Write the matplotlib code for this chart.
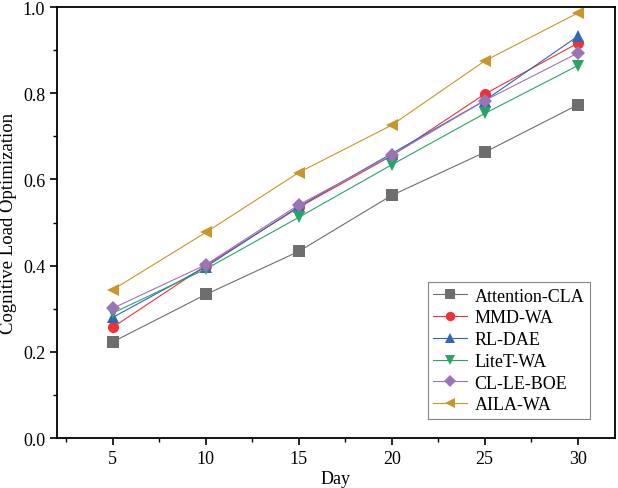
import matplotlib
matplotlib.use("Agg")
import matplotlib.pyplot as plt
from matplotlib.ticker import MultipleLocator

days = [5, 10, 15, 20, 25, 30]
attention_cla = [0.223, 0.333, 0.433, 0.563, 0.663, 0.773]
mmd_wa = [0.257, 0.400, 0.535, 0.655, 0.798, 0.916]
rl_dae = [0.280, 0.397, 0.537, 0.660, 0.783, 0.932]
litet_wa = [0.290, 0.392, 0.512, 0.634, 0.753, 0.864]
cl_le_boe = [0.301, 0.402, 0.541, 0.656, 0.783, 0.893]
aila_wa = [0.344, 0.477, 0.616, 0.726, 0.875, 0.986]

series = [
    ("Attention-CLA", attention_cla, "#6e6e6e", "s"),
    ("MMD-WA", mmd_wa, "#f03238", "o"),
    ("RL-DAE", rl_dae, "#2f67b4", "^"),
    ("LiteT-WA", litet_wa, "#2aa466", "v"),
    ("CL-LE-BOE", cl_le_boe, "#9b74b8", "D"),
    ("AILA-WA", aila_wa, "#c8962a", "<"),
]

plt.rcParams['font.family'] = ['Liberation Serif', 'DejaVu Serif']
fig = plt.figure(figsize=(6.18, 4.89), dpi=100)
ax = fig.add_axes([0.0922, 0.1022, 0.9028, 0.8814])

for name, vals, col, mk in series:
    ms = 7 if mk == "D" else 8
    ax.plot(days, vals, color=col, lw=0.8, marker=mk, markersize=ms,
            markeredgewidth=0, label=name)

ax.set_xlim(2, 32)
ax.set_ylim(0, 1.0)
ax.xaxis.set_major_locator(MultipleLocator(5))
ax.xaxis.set_minor_locator(MultipleLocator(2.5))
ax.yaxis.set_major_locator(MultipleLocator(0.2))
ax.yaxis.set_minor_locator(MultipleLocator(0.1))
ax.yaxis.set_major_formatter(matplotlib.ticker.FormatStrFormatter('%.1f'))
ax.tick_params(which='major', direction='out', length=5, width=1.2, labelsize=13)
ax.tick_params(which='minor', direction='out', length=3, width=1.0)
ax.tick_params(top=False, right=False)
for s in ax.spines.values():
    s.set_linewidth(1.3)

ax.set_xlabel("Day", fontsize=13, labelpad=2)
ax.set_ylabel("Cognitive Load Optimization", fontsize=13.5, labelpad=4)

leg = ax.legend(loc='lower right', bbox_to_anchor=(0.955, 0.045), fontsize=13,
                frameon=True, fancybox=False, edgecolor='#666666',
                handlelength=1.9, labelspacing=0.26, borderpad=0.3,
                handletextpad=0.4, borderaxespad=0, markerscale=0.85)
leg.get_frame().set_linewidth(0.8)

fig.savefig("out.png", dpi=100)
